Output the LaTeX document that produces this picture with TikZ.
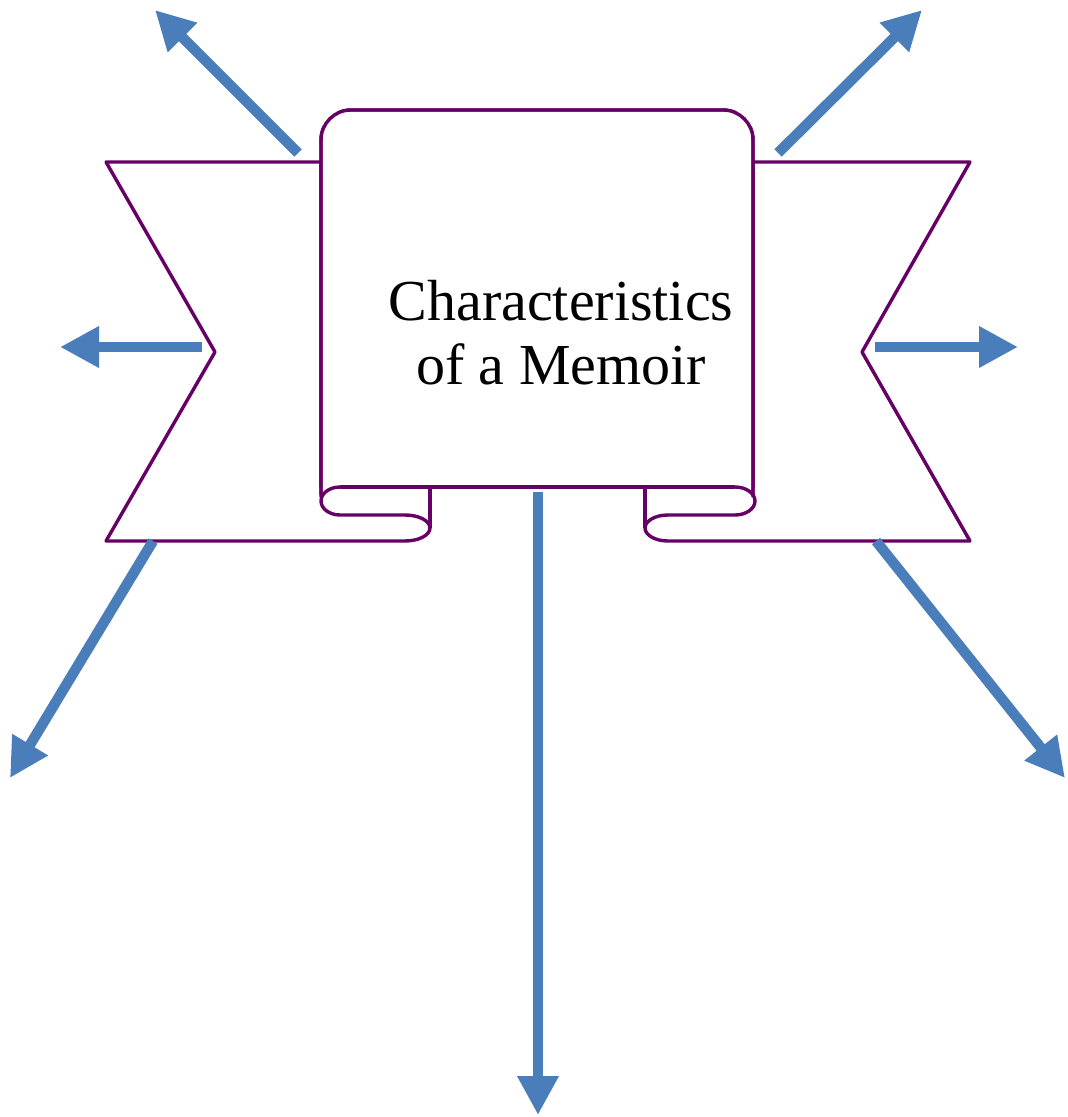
\documentclass[tikz,border=0pt]{standalone}
\usepackage{fontspec}
\setmainfont{Liberation Serif}
\usetikzlibrary{arrows.meta}
\definecolor{scrollpurple}{HTML}{660066}
\definecolor{arrowblue}{HTML}{4A7EBB}
\begin{document}
\begin{tikzpicture}[x=0.5pt,y=-0.5pt,
  outline/.style={draw=scrollpurple,line width=1.7pt,line join=round,fill=white},
  curl/.style={draw=scrollpurple,line width=1.7pt,line join=round},
  bigarrow/.style={draw=arrowblue,line width=5.2pt,-{Triangle[length=19.5pt,width=19.5pt]}}]
\useasboundingbox (0,0) rectangle (1068,1117);
% left wing
\draw[outline] (321,162) -- (106,162) -- (215,352) -- (106,541) -- (405,541)
  arc[start angle=90,end angle=0,x radius=25,y radius=13] -- (430,487) -- (321,487) -- cycle;
% right wing
\draw[outline] (753,162) -- (970,162) -- (862,352) -- (970,541) -- (668,541)
  arc[start angle=90,end angle=180,x radius=23,y radius=13] -- (645,487) -- (753,487) -- cycle;
% scroll body
\draw[outline,rounded corners=15] (321,495) -- (321,110) -- (753,110) -- (753,495);
\fill[white] (323,112) rectangle (751,487);
% bottom line and curls
\draw[curl] (340,487) -- (735,487);
\draw[curl] (340,487) arc[start angle=270,end angle=90,x radius=19,y radius=14] -- (405,515)
  arc[start angle=270,end angle=360,x radius=25,y radius=13];
\draw[curl] (430,487) -- (430,528);
\draw[curl] (735,487) arc[start angle=-90,end angle=90,x radius=20,y radius=14] -- (668,515)
  arc[start angle=-90,end angle=-180,x radius=23,y radius=13];
\draw[curl] (645,487) -- (645,528);
% redraw scroll sides over fill
\draw[curl,rounded corners=15] (321,497) -- (321,110) -- (753,110) -- (753,497);
% title
\node (title) at (561,333) [align=center,font=\fontsize{29}{32}\selectfont] {Characteristics\\of a Memoir};
% arrows
\coordinate (tl0) at (298,153); \coordinate (tl1) at (155,10);
\coordinate (tr0) at (778,153); \coordinate (tr1) at (922,10);
\coordinate (l0) at (202,347); \coordinate (l1) at (60,347);
\coordinate (r0) at (875,347); \coordinate (r1) at (1018,347);
\coordinate (bl0) at (153,541); \coordinate (bl1) at (10,778);
\coordinate (br0) at (876,541); \coordinate (br1) at (1065,778);
\coordinate (d0) at (538,492); \coordinate (d1) at (538,1115);
\draw[bigarrow] (tl0) -- (tl1);
\draw[bigarrow] (tr0) -- (tr1);
\draw[bigarrow] (l0) -- (l1);
\draw[bigarrow] (r0) -- (r1);
\draw[bigarrow] (bl0) -- (bl1);
\draw[bigarrow] (br0) -- (br1);
\draw[bigarrow] (d0) -- (d1);
\end{tikzpicture}
\end{document}
